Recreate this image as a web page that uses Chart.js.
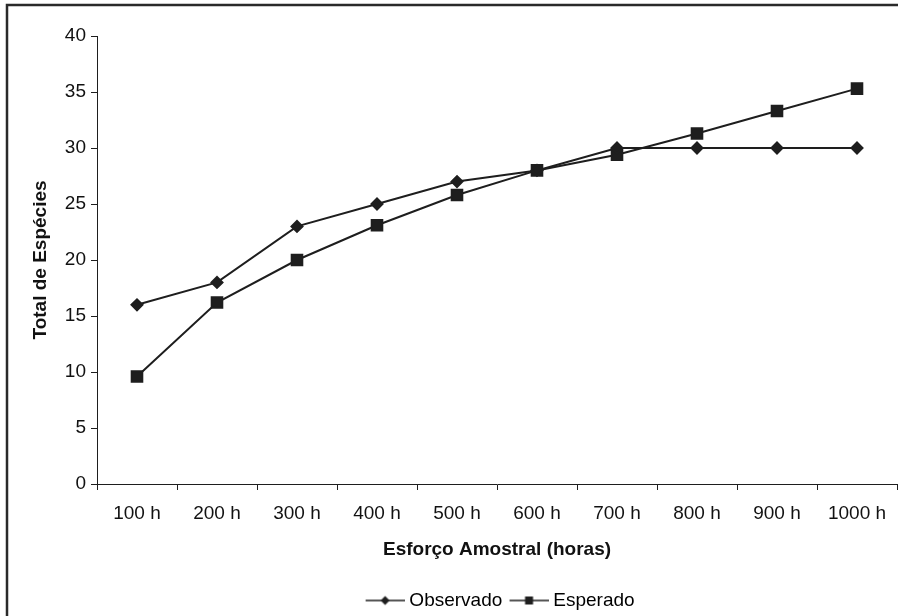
<!DOCTYPE html>
<html>
<head>
<meta charset="utf-8">
<script src="https://cdn.jsdelivr.net/npm/chart.js@4/dist/chart.umd.min.js"></script>
<style>
  body { margin: 0; background: #fff; }
  #grafico { display: block; }
</style>
</head>
<body>
<canvas id="grafico" width="898" height="616"></canvas>
<script>
// datos
var esforco = ['100 h', '200 h', '300 h', '400 h', '500 h', '600 h', '700 h', '800 h', '900 h', '1000 h'];
var observado = [16, 18, 23, 25, 27, 28, 30, 30, 30, 30];
var esperado = [9.6, 16.2, 20, 23.1, 25.8, 28, 29.4, 31.3, 33.3, 35.3];
var yTicks = [0, 5, 10, 15, 20, 25, 30, 35, 40];

var tinta = '#1e1e1e';
var fuente = 'Liberation Sans, Arial, sans-serif';

// simbolo de leyenda: linea con marcador en el centro
// (margen transparente a la izquierda para separarlo del texto anterior)
function simbolo(tipo) {
    var m = 11;
    var c = document.createElement('canvas');
    c.width = 50;
    c.height = 12;
    var g = c.getContext('2d');
    g.strokeStyle = tinta;
    g.lineWidth = 1.6;
    g.beginPath();
    g.moveTo(m, 6);
    g.lineTo(m + 39, 6);
    g.stroke();
    g.fillStyle = tinta;
    g.beginPath();
    var cx = m + 19.5;
    if (tipo == 'rombo') {
        g.moveTo(cx, 1.5); g.lineTo(cx + 4.5, 6); g.lineTo(cx, 10.5); g.lineTo(cx - 4.5, 6);
    } else {
        g.rect(cx - 4, 2, 8, 8);
    }
    g.closePath();
    g.fill();
    return c;
}

var marco = {
    id: 'marco',
    beforeDraw: function (chart) {
        var ctx = chart.ctx;
        ctx.save();
        ctx.fillStyle = '#fff';
        ctx.fillRect(0, 0, chart.width, chart.height);
        ctx.strokeStyle = '#2a2a2a';
        ctx.lineWidth = 2.5;
        ctx.beginPath();
        ctx.moveTo(7, chart.height);
        ctx.lineTo(7, 5);
        ctx.lineTo(chart.width, 5);
        ctx.stroke();
        ctx.restore();
    }
};

var ctx = document.getElementById('grafico').getContext('2d');
var graf = new Chart(ctx, {
    type: 'line',
    data: {
        labels: esforco,
        datasets: [{
                label: 'Observado',
                data: observado,
                borderColor: tinta,
                backgroundColor: tinta,
                borderWidth: 2,
                pointStyle: 'rectRot',
                pointRadius: 5.5,
                pointHoverRadius: 5.5,
                tension: 0
            }, {
                label: 'Esperado',
                data: esperado,
                borderColor: tinta,
                backgroundColor: tinta,
                borderWidth: 2,
                pointStyle: 'rect',
                pointRadius: 7.5,
                pointHoverRadius: 7.5,
                tension: 0
            }]
    },
    options: {
        responsive: false,
        animation: false,
        layout: { autoPadding: false, padding: { left: 29, top: 36, right: 1, bottom: -4 } },
        scales: {
            x: {
                offset: true,
                grid: { offset: true, drawOnChartArea: false, drawTicks: true, tickLength: 6, color: tinta },
                border: { color: tinta, width: 1 },
                ticks: { color: '#111', font: { family: fuente, size: 19 }, padding: 12, maxRotation: 0 },
                title: { display: true, text: 'Esforço Amostral (horas)', color: '#111',
                    font: { family: fuente, size: 19, weight: 'bold' }, padding: { top: 10, bottom: 29 } },
                afterFit: function (s) {
                    s.height = 106;
                    s.paddingLeft = 0;
                    s.paddingRight = 0;
                }
            },
            y: {
                min: 0,
                max: 40,
                afterBuildTicks: function (s) { s.ticks = yTicks.map(function (v) { return { value: v }; }); },
                grid: { drawOnChartArea: false, drawTicks: true, tickLength: 6, color: tinta },
                border: { color: tinta, width: 1 },
                ticks: { color: '#111', font: { family: fuente, size: 19 }, padding: 5 },
                title: { display: true, text: 'Total de Espécies', color: '#111',
                    font: { family: fuente, size: 19, weight: 'bold' }, padding: 0 },
                afterFit: function (s) { s.width = 68; }
            }
        },
        plugins: {
            legend: {
                position: 'bottom',
                fullSize: false,
                labels: {
                    color: '#111',
                    font: { family: fuente, size: 19 },
                    usePointStyle: true,
                    pointStyleWidth: 40.5,
                    boxHeight: 12,
                    padding: 1,
                    generateLabels: function (chart) {
                        return chart.data.datasets.map(function (d, i) {
                            return {
                                text: d.label,
                                fillStyle: tinta,
                                strokeStyle: tinta,
                                lineWidth: 0,
                                pointStyle: simbolo(i == 0 ? 'rombo' : 'cuadro'),
                                datasetIndex: i
                            };
                        });
                    }
                }
            },
            tooltip: { enabled: false }
        }
    },
    plugins: [marco]
});
</script>
</body>
</html>
